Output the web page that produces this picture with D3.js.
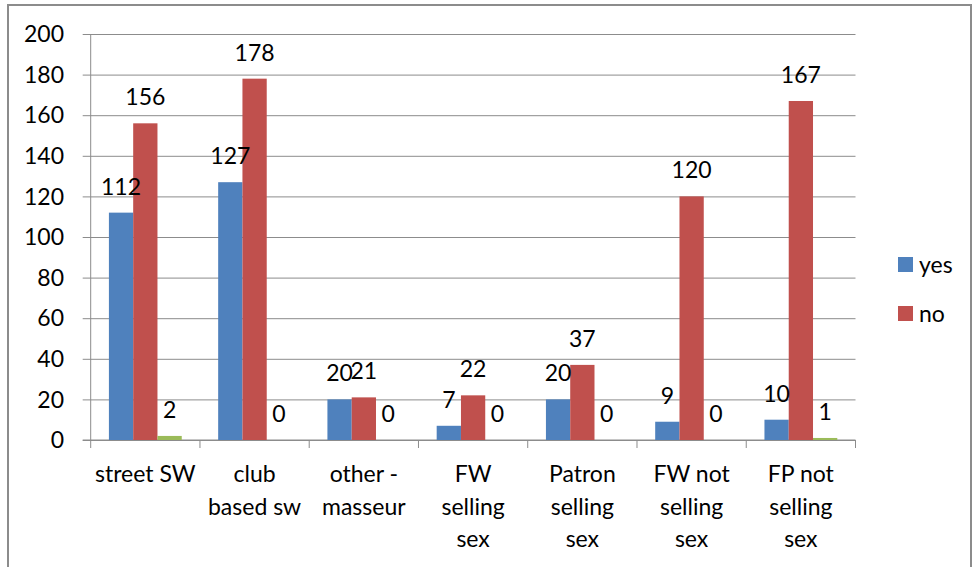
<!DOCTYPE html>
<html>
<head>
<meta charset="utf-8">
<script src="https://cdn.jsdelivr.net/npm/d3@7"></script>
<style>
  body { margin: 0; background: #fff; }
  text { font-family: Lato, "Open Sans", sans-serif; fill: #000; }
</style>
</head>
<body>
<div id="chart"></div>
<script>
      var w = 974;
      var h = 567;

      var categories = ["street SW", "club based sw", "other - masseur", "FW selling sex",
                        "Patron selling sex", "FW not selling sex", "FP not selling sex"];
      var categoryLines = [["street SW"], ["club", "based sw"], ["other -", "masseur"],
                           ["FW", "selling", "sex"], ["Patron", "selling", "sex"],
                           ["FW not", "selling", "sex"], ["FP not", "selling", "sex"]];
      var seriesNames = ["yes", "no", "other"];
      var yesValues = [112, 127, 20, 7, 20, 9, 10];
      var noValues = [156, 178, 21, 22, 37, 120, 167];
      var otherValues = [2, 0, 0, 0, 0, 0, 1];
      var yTicks = [0, 20, 40, 60, 80, 100, 120, 140, 160, 180, 200];
      var legendNames = ["yes", "no"];

      var colors = {yes: "#4F81BD", no: "#C0504D", other: "#9BBB59"};
      var seriesValues = {yes: yesValues, no: noValues, other: otherValues};

      var plotLeft = 90.7, plotRight = 855.5, plotTop = 34, plotBottom = 440;
      var fs = 23;

      var svg = d3.select("#chart")
            .append("svg")
            .attr("width", w)
            .attr("height", h);

      //outer frame
      svg.append("rect")
         .attr("x", 8).attr("y", 5)
         .attr("width", 963).attr("height", 620)
         .attr("fill", "none")
         .attr("stroke", "#8c8c8c")
         .attr("stroke-width", 2);

      var x0 = d3.scaleBand()
              .domain(d3.range(categories.length))
              .range([plotLeft, plotRight]);

      var bw = x0.bandwidth();
      var x1 = d3.scaleBand()
              .domain(seriesNames)
              .range([bw * 0.75 / 4.5, bw - bw * 0.75 / 4.5]);

      var y = d3.scaleLinear()
              .domain([0, 200])
              .range([plotBottom, plotTop]);

      //gridlines
      var gy = svg.append("g")
         .attr("transform", "translate(" + plotRight + ",0)");
      gy.call(d3.axisLeft(y).tickValues(yTicks).tickSize(plotRight - plotLeft + 8).tickFormat(""));
      gy.select(".domain").remove();
      gy.selectAll("line").attr("stroke", "#8c8c8c");

      //y labels
      svg.selectAll("text.ylab")
         .data(yTicks)
         .enter()
         .append("text")
         .attr("class", "ylab")
         .attr("x", 64)
         .attr("y", function(d) { return y(d); })
         .attr("dy", "0.36em")
         .attr("text-anchor", "end")
         .attr("font-size", fs)
         .text(function(d) { return d; });

      //y axis line
      svg.append("line")
         .attr("x1", plotLeft).attr("x2", plotLeft)
         .attr("y1", plotTop).attr("y2", plotBottom)
         .attr("stroke", "#8c8c8c");

      //x axis with category ticks
      var gx = svg.append("g");
      gx.append("line")
        .attr("x1", plotLeft - 8).attr("x2", plotRight)
        .attr("y1", plotBottom).attr("y2", plotBottom)
        .attr("stroke", "#8c8c8c");
      gx.selectAll("line.tick")
        .data(d3.range(categories.length + 1))
        .enter()
        .append("line")
        .attr("class", "tick")
        .attr("x1", function(i) { return plotLeft + i * bw; })
        .attr("x2", function(i) { return plotLeft + i * bw; })
        .attr("y1", plotBottom).attr("y2", plotBottom + 8)
        .attr("stroke", "#8c8c8c");

      //bars
      var groups = svg.selectAll("g.cat")
         .data(categories)
         .enter()
         .append("g")
         .attr("class", "cat")
         .attr("transform", function(d, i) { return "translate(" + x0(i) + ",0)"; });

      var rows = function(d, i) {
        return seriesNames.map(function(s) { return {s: s, v: seriesValues[s][i]}; });
      };

      groups.selectAll("rect")
         .data(rows)
         .enter()
         .append("rect")
         .attr("x", function(d) { return x1(d.s); })
         .attr("y", function(d) { return y(d.v); })
         .attr("width", x1.bandwidth())
         .attr("height", function(d) { return plotBottom - y(d.v); })
         .attr("fill", function(d) { return colors[d.s]; });

      groups.selectAll("text.val")
         .data(rows)
         .enter()
         .append("text")
         .attr("class", "val")
         .attr("x", function(d) { return x1(d.s) + x1.bandwidth() / 2; })
         .attr("y", function(d) { return y(d.v) - 18; })
         .attr("text-anchor", "middle")
         .attr("font-size", fs)
         .text(function(d) { return d.v; });

      //category labels
      groups.each(function(d, i) {
        var t = d3.select(this).append("text")
           .attr("text-anchor", "middle")
           .attr("font-size", fs);
        categoryLines[i].forEach(function(line, k) {
          t.append("tspan")
           .attr("x", bw / 2)
           .attr("y", 482 + k * 32.5)
           .text(line);
        });
      });

      //legend
      var legend = svg.selectAll("g.legend")
         .data(legendNames)
         .enter()
         .append("g")
         .attr("class", "legend")
         .attr("transform", function(d, i) { return "translate(898," + (257 + i * 49) + ")"; });
      legend.append("rect")
         .attr("width", 15).attr("height", 15)
         .attr("fill", function(d) { return colors[d]; });
      legend.append("text")
         .attr("x", 21).attr("y", 16)
         .attr("font-size", fs)
         .text(function(d) { return d; });
</script>
</body>
</html>
